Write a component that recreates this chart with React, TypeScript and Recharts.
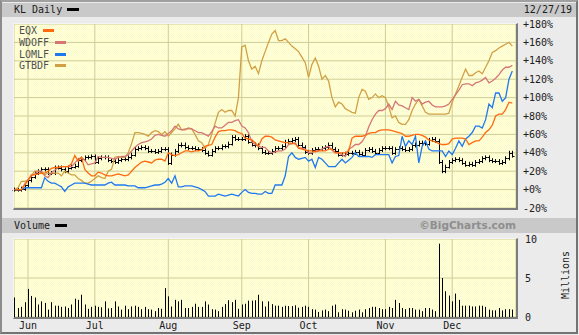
import React from 'react';
import { ComposedChart, Line, Bar, XAxis, YAxis, CartesianGrid } from 'recharts';

// 150 trading days: May 28 2019 – Dec 27 2019
const tradingDays = Array.from({ length: 150 }, (_, i) => i);
const monthTicks = [4, 24, 46, 68, 88, 111, 131];
const monthNames = ['Jun', 'Jul', 'Aug', 'Sep', 'Oct', 'Nov', 'Dec'];
const pctTicks = [-20, 0, 20, 40, 60, 80, 100, 120, 140, 160, 180];
const volTicks = [0, 5, 10];

// KL daily close, % change
const kl = [
  0, 0, 1, 5, 10, 14, 18, 20, 22, 22,
  18, 18, 24, 24, 22, 20, 24, 25, 26, 32,
  33, 35, 35, 36, 30, 34, 35, 35, 32, 31,
  30, 32, 33, 33, 35, 38, 44, 45, 46, 45,
  42, 42, 41, 42, 44, 44, 29, 38, 42, 48,
  49, 46, 45, 45, 44, 44, 43, 40, 38, 42,
  45, 45, 47, 47, 50, 57, 55, 55, 55, 58,
  52, 49, 48, 45, 41, 40, 40, 42, 45, 45,
  47, 52, 53, 54, 55, 49, 46, 41, 40, 43,
  44, 44, 45, 46, 49, 44, 42, 38, 38, 39,
  40, 40, 41, 39, 38, 43, 44, 42, 40, 43,
  45, 45, 45, 40, 44, 45, 44, 43, 44, 48,
  49, 51, 51, 50, 54, 55, 53, 30, 20, 25,
  30, 32, 33, 32, 29, 27, 28, 27, 30, 31,
  34, 35, 32, 31, 31, 29, 30, 34, 40, 37,
];

const eqx = [
  0, 0, 0, 5, 10, 16, 16, 17, 18, 18,
  20, 23, 24, 24, 25, 25, 25, 28, 37, 31,
  35, 22, 18, 15, 15, 19, 18, 16, 15, 15,
  16, 17, 16, 15, 16, 20, 24, 27, 30, 31,
  30, 29, 32, 33, 33, 31, 40, 38, 37, 38,
  40, 42, 42, 41, 42, 42, 43, 47, 48, 49,
  57, 63, 64, 64, 65, 65, 64, 62, 61, 56,
  55, 54, 51, 47, 55, 58, 58, 57, 54, 53,
  52, 51, 51, 50, 50, 45, 44, 43, 42, 42,
  41, 42, 42, 42, 44, 44, 40, 40, 40, 40,
  42, 56, 58, 58, 58, 59, 61, 62, 62, 64,
  65, 65, 65, 64, 63, 62, 61, 58, 58, 59,
  60, 60, 59, 57, 54, 53, 52, 50, 49, 49,
  50, 55, 56, 56, 56, 55, 49, 51, 53, 53,
  57, 62, 65, 70, 80, 82, 82, 87, 95, 94,
];

const wdoff = [
  0, 0, 0, 6, 11, 15, 17, 20, 20, 15,
  13, 18, 21, 24, 25, 25, 25, 25, 29, 33,
  35, 32, 27, 28, 29, 36, 35, 35, 35, 34,
  33, 35, 36, 36, 38, 42, 46, 49, 51, 52,
  53, 55, 59, 60, 59, 58, 61, 64, 69, 66,
  65, 65, 67, 66, 64, 62, 62, 60, 58, 63,
  69, 67, 67, 70, 73, 73, 75, 76, 69, 67,
  62, 52, 49, 47, 46, 46, 42, 40, 41, 42,
  42, 44, 49, 50, 51, 45, 45, 44, 40, 40,
  42, 42, 44, 46, 47, 43, 40, 40, 38, 36,
  44, 46, 49, 49, 52, 58, 68, 76, 82, 86,
  86, 88, 93, 87, 96, 92, 91, 89, 87, 100,
  96, 98, 93, 95, 96, 92, 90, 90, 90, 91,
  93, 98, 103, 108, 114, 115, 115, 113, 116, 117,
  119, 122, 116, 118, 121, 125, 130, 133, 133, 135,
];

const lomlf = [
  0, 0, 0, 2, 2, 2, 2, 2, 2, 13,
  9, 7, 7, 5, 3, -2, 3, 5, 7, 7,
  7, 7, 6, 5, 5, 5, 5, 5, 7, 8,
  5, 5, 5, 5, 4, 4, 4, 2, 2, 2,
  3, 4, 5, 5, 6, 8, 12, 7, 15, 3,
  3, 4, 4, 4, 3, 2, 0, -2, -7, -7,
  -7, -5, -6, -7, -6, -5, -6, -7, -3, 0,
  -3, -4, -4, -5, -5, -2, -4, -4, 5, 5,
  5, 15, 36, 40, 35, 33, 34, 35, 31, 33,
  24, 35, 33, 29, 25, 25, 25, 29, 33, 29,
  32, 35, 40, 36, 36, 36, 36, 35, 38, 38,
  38, 38, 38, 29, 36, 37, 58, 47, 53, 49,
  58, 29, 47, 53, 44, 42, 42, 42, 42, 36,
  42, 38, 45, 53, 47, 55, 58, 62, 69, 69,
  67, 76, 93, 89, 105, 105, 96, 100, 120, 129,
];

const gtbdf = [
  0, 2, 9, 9, 10, 15, 20, 20, 18, 16,
  18, 18, 18, 18, 15, 20, 18, 16, 16, 12,
  10, 7, 7, 9, 12, 15, 13, 12, 20, 22,
  35, 36, 35, 35, 40, 50, 62, 62, 61, 60,
  58, 62, 64, 63, 60, 63, 58, 62, 66, 71,
  65, 66, 66, 66, 60, 53, 51, 45, 49, 60,
  72, 84, 87, 84, 86, 86, 80, 100, 155, 157,
  140, 131, 134, 126, 140, 150, 160, 169, 173, 162,
  162, 164, 160, 156, 153, 150, 144, 138, 122, 136,
  143, 134, 120, 124, 118, 100, 90, 95, 93, 88,
  86, 84, 83, 100, 109, 107, 98, 100, 104, 100,
  102, 100, 90, 78, 80, 73, 71, 71, 76, 86,
  93, 98, 91, 84, 82, 82, 82, 82, 82, 82,
  83, 95, 104, 113, 122, 131, 124, 124, 127, 129,
  126, 133, 140, 149, 151, 154, 156, 158, 160, 156,
];

// KL volume, millions
const volume = [
  2.5, 1.15, 1.3, 1.9, 3.6, 2.7, 2.5, 1.6, 2.0, 1.8,
  0.95, 1.9, 1.45, 1.45, 1.3, 1.35, 1.15, 1.6, 2.35, 2.2,
  2.85, 1.6, 1.05, 1.3, 1.45, 1.3, 1.25, 2.0, 1.1, 1.15,
  2.0, 1.35, 0.95, 1.45, 1.0, 1.35, 1.45, 1.3, 1.0, 1.3,
  1.0, 0.95, 0.75, 1.15, 1.05, 3.7, 2.65, 1.35, 2.2, 2.0,
  2.2, 1.15, 1.15, 1.3, 1.7, 1.3, 1.3, 2.0, 1.6, 1.0,
  0.95, 0.75, 1.3, 1.65, 2.15, 1.9, 2.2, 1.05, 1.6, 1.7,
  2.1, 2.1, 2.15, 2.85, 2.0, 1.35, 2.0, 1.65, 1.45, 1.45,
  1.3, 1.45, 1.4, 1.4, 1.5, 1.2, 1.3, 1.45, 1.3, 1.0,
  0.95, 0.65, 0.85, 0.95, 0.75, 1.45, 1.6, 0.6, 1.0, 0.95,
  0.8, 0.6, 0.8, 0.95, 0.6, 1.0, 1.15, 1.3, 1.3, 1.15,
  1.0, 1.0, 1.3, 1.15, 2.2, 1.8, 1.15, 1.0, 1.15, 1.15,
  0.95, 0.95, 0.75, 1.15, 1.15, 0.95, 0.75, 9.4, 5.0, 3.3,
  2.75, 2.0, 3.0, 2.2, 1.45, 1.45, 1.45, 1.35, 1.35, 1.45,
  1.45, 1.3, 0.95, 0.85, 0.85, 1.15, 0.85, 1.0, 1.0, 0.95,
];

const series = [
  { key: 'eqx', name: 'EQX', color: '#ff6a10', values: eqx },
  { key: 'wdoff', name: 'WDOFF', color: '#d47676', values: wdoff },
  { key: 'lomlf', name: 'LOMLF', color: '#1f78f0', values: lomlf },
  { key: 'gtbdf', name: 'GTBDF', color: '#d2a044', values: gtbdf },
];

const priceRows = tradingDays.map((d, i) => {
  const open = i > 0 ? kl[i - 1] : kl[i];
  const row: any = { d, kl: kl[i], klOpen: open, klRange: [Math.min(open, kl[i]), Math.max(open, kl[i])] };
  series.forEach((s) => { row[s.key] = s.values[i]; });
  return row;
});
const volRows = tradingDays.map((d, i) => ({ d, vol: volume[i] }));

const mono = "'DejaVu Sans Mono', monospace";
const xDomain: [number, number] = [-0.2, 150.1];
const gridColor = '#cdcd98';

const OhlcShape = (props: any) => {
  const { x, y, width, height, payload } = props;
  if (x == null || y == null || !payload) return null;
  const cx = Math.round(x + width / 2) + 0.5;
  const top = Math.min(y, y + height);
  const bot = Math.max(y, y + height);
  const up = payload.kl >= payload.klOpen;
  const closeY = Math.round(up ? top : bot) + 0.5;
  const openY = Math.round(up ? bot : top) + 0.5;
  return (
    <g stroke="#000" strokeWidth={1}>
      <line x1={cx} x2={cx} y1={top - 2} y2={bot + 2} />
      <line x1={cx - 2} x2={cx} y1={openY} y2={openY} />
      <line x1={cx} x2={cx + 2} y1={closeY} y2={closeY} />
    </g>
  );
};

const VolShape = (props: any) => {
  const { x, y, width, height } = props;
  if (x == null || y == null) return null;
  const cx = Math.round(x + width / 2) + 0.5;
  return <line x1={cx} x2={cx} y1={y} y2={y + height} stroke="#000" strokeWidth={1} />;
};

const pctFmt = (v: number) => (v >= 0 ? '+' : '') + v + '%';
const monthFmt = (v: number) => monthNames[monthTicks.indexOf(v)] || '';

const Dots = ({ id }: { id: string }) => (
  <defs>
    <pattern id={id} width={2} height={2} patternUnits="userSpaceOnUse">
      <rect width={2} height={2} fill="#ffffe6" />
      <rect width={1} height={1} fill="#fdfdc2" />
      <rect x={1} y={1} width={1} height={1} fill="#fdfdc2" />
    </pattern>
  </defs>
);

export default function App() {
  const textBase: React.CSSProperties = { position: 'absolute', fontFamily: mono, fontSize: 10, color: '#202020', whiteSpace: 'nowrap' };
  return (
    <div style={{ position: 'absolute', left: 0, top: 0, width: 579, height: 335, background: '#ebebeb', overflow: 'hidden' }}>
      {/* header bars */}
      <div style={{ position: 'absolute', left: 2, top: 3, width: 575, height: 14, background: '#c9c9c9' }} />
      <div style={{ position: 'absolute', left: 2, top: 218, width: 575, height: 15, background: '#c9c9c9' }} />
      <div style={{ ...textBase, left: 14, top: 3, lineHeight: '14px' }}>KL Daily</div>
      <div style={{ position: 'absolute', left: 67, top: 8, width: 12, height: 3, background: '#000' }} />
      <div style={{ ...textBase, right: 7, top: 3, lineHeight: '14px' }}>12/27/19</div>
      <div style={{ ...textBase, left: 14, top: 218, lineHeight: '15px' }}>Volume</div>
      <div style={{ position: 'absolute', left: 55, top: 224, width: 12, height: 3, background: '#000' }} />
      <div style={{ position: 'absolute', right: 63, top: 218, lineHeight: '15px', fontFamily: "'DejaVu Sans', sans-serif", fontWeight: 'bold', fontSize: 10.5, color: '#8e8e8e', whiteSpace: 'nowrap' }}>©BigCharts.com</div>

      {/* price chart */}
      <div style={{ position: 'absolute', left: 0, top: 0 }}>
        <ComposedChart width={579} height={215} data={priceRows} margin={{ top: 24, right: 0, bottom: 7, left: 14 }}>
          <Dots id="dotsA" />
          <CartesianGrid stroke={gridColor} fill="url(#dotsA)" fillOpacity={1} />
          <XAxis dataKey="d" type="number" domain={xDomain} ticks={monthTicks} hide />
          <YAxis orientation="right" width={63} domain={[-20, 180]} ticks={pctTicks} interval={0}
            tickFormatter={pctFmt} tickLine={false} axisLine={false} tickSize={5} tickMargin={2}
            tick={{ fontFamily: mono, fontSize: 10, fill: '#202020' }} />
          {series.slice().reverse().map((s) => (
            <Line key={s.key} dataKey={s.key} stroke={s.color} strokeWidth={1.3} dot={false} type="linear" isAnimationActive={false} />
          ))}
          <Bar dataKey="klRange" barSize={1} shape={<OhlcShape />} isAnimationActive={false} />
        </ComposedChart>
      </div>

      {/* volume chart */}
      <div style={{ position: 'absolute', left: 0, top: 233 }}>
        <ComposedChart width={579} height={102} data={volRows} margin={{ top: 6, right: 0, bottom: 0, left: 14 }}>
          <Dots id="dotsB" />
          <CartesianGrid stroke={gridColor} fill="url(#dotsB)" fillOpacity={1} />
          <XAxis dataKey="d" type="number" domain={xDomain} ticks={monthTicks} interval={0} tickFormatter={monthFmt}
            height={18} tickLine={false} axisLine={false} tickSize={0} tickMargin={5}
            tick={{ fontFamily: mono, fontSize: 10, fill: '#202020' }} />
          <YAxis orientation="right" width={63} domain={[0, 10]} ticks={volTicks} interval={0}
            tickLine={false} axisLine={false} tickSize={7} tickMargin={2}
            tick={{ fontFamily: mono, fontSize: 10, fill: '#202020' }} />
          <Bar dataKey="vol" barSize={1} shape={<VolShape />} isAnimationActive={false} />
        </ComposedChart>
      </div>

      {/* legend */}
      <div style={{ position: 'absolute', left: 19, top: 25 }}>
        {series.map((s) => (
          <div key={s.key} style={{ display: 'flex', alignItems: 'center', height: 11.7, fontFamily: mono, fontSize: 10, color: '#505050' }}>
            <span>{s.name}</span>
            <span style={{ display: 'inline-block', width: 11, height: 3, marginLeft: 6, background: s.color }} />
          </div>
        ))}
      </div>

      {/* Millions label */}
      <div style={{ ...textBase, left: 566, top: 275, transform: 'translate(-50%, -50%) rotate(-90deg)', lineHeight: '10px' }}>Millions</div>

      {/* panel borders */}
      <div style={{ position: 'absolute', left: 13, top: 23, width: 502, height: 184, borderTop: '1px solid #f4f4f4', borderLeft: '1px solid #f4f4f4', borderRight: '2px solid #7c7c7c', borderBottom: '2px solid #7c7c7c', pointerEvents: 'none' }} />
      <div style={{ position: 'absolute', left: 13, top: 238, width: 502, height: 78, borderTop: '1px solid #f4f4f4', borderLeft: '1px solid #f4f4f4', borderRight: '2px solid #7c7c7c', borderBottom: '2px solid #7c7c7c', pointerEvents: 'none' }} />

      {/* outer frame */}
      <div style={{ position: 'absolute', left: 0, top: 0, width: 578, height: 334, boxSizing: 'border-box', borderTop: '2px solid #a0a0a0', borderLeft: '2px solid #8c8c8c', borderRight: '2px solid #737373', borderBottom: '2px solid #737373', pointerEvents: 'none' }} />
    </div>
  );
}
